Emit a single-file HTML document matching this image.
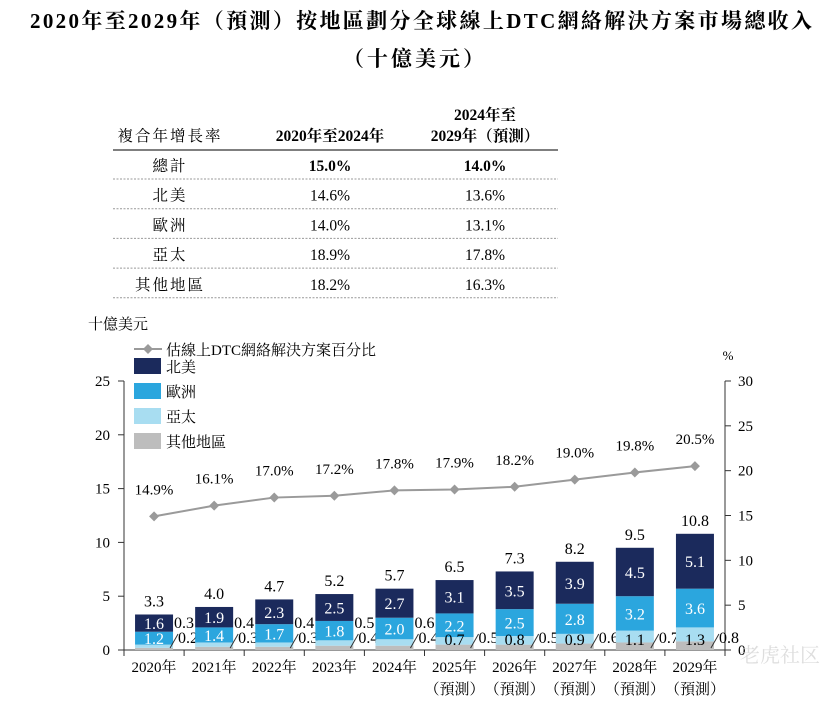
<!DOCTYPE html>
<html><head><meta charset="utf-8"><style>
body{margin:0;background:#fff;width:830px;height:702px;overflow:hidden;font-family:"Liberation Serif","Noto Serif CJK TC","Noto Serif CJK SC",serif;color:#222}
svg text{font-family:"Liberation Serif","Noto Serif CJK SC",serif}
</style></head><body>
<svg width="830" height="702">
<text x="30" y="28" font-size="21" font-weight="bold" textLength="782" lengthAdjust="spacing">2020年至2029年（預測）按地區劃分全球線上DTC網絡解決方案市場總收入</text>
<text x="415" y="66" text-anchor="middle" font-size="21" font-weight="bold" letter-spacing="3">（十億美元）</text>
<g id="table" font-size="15.5" text-anchor="middle"></g>
<g id="chart"></g>
<text x="740" y="662" font-size="20" fill="#ddd" font-family="sans-serif">老虎社区</text>
</svg>
<script>
const years=["2020年","2021年","2022年","2023年","2024年","2025年","2026年","2027年","2028年","2029年"];
const forecast=[0,0,0,0,0,1,1,1,1,1];
const northAmerica=[1.6,1.9,2.3,2.5,2.7,3.1,3.5,3.9,4.5,5.1];
const europe=[1.2,1.4,1.7,1.8,2.0,2.2,2.5,2.8,3.2,3.6];
const apac=[0.3,0.4,0.4,0.5,0.6,0.7,0.8,0.9,1.1,1.3];
const other=[0.2,0.3,0.3,0.4,0.4,0.5,0.5,0.6,0.7,0.8];
const totals=[3.3,4.0,4.7,5.2,5.7,6.5,7.3,8.2,9.5,10.8];
const share=[14.9,16.1,17.0,17.2,17.8,17.9,18.2,19.0,19.8,20.5];
const leftTicks=[0,5,10,15,20,25];
const rightTicks=[0,5,10,15,20,25,30];
const tableRows=[["總計","15.0%","14.0%"],["北美","14.6%","13.6%"],["歐洲","14.0%","13.1%"],["亞太","18.9%","17.8%"],["其他地區","18.2%","16.3%"]];

const NS="http://www.w3.org/2000/svg";
function mk(p,tag,at,txt){const e=document.createElementNS(NS,tag);for(const k in at)e.setAttribute(k,at[k]);if(txt!=null)e.textContent=txt;p.appendChild(e);return e;}
// table
const tb=document.getElementById('table');
const cx=[170,330,485];
mk(tb,'text',{x:cx[0],y:141,'letter-spacing':2},"複合年增長率");
mk(tb,'text',{x:cx[1],y:141,'font-weight':'bold'},"2020年至2024年");
mk(tb,'text',{x:cx[2],y:120,'font-weight':'bold'},"2024年至");
mk(tb,'text',{x:cx[2],y:141,'font-weight':'bold'},"2029年（預測）");
mk(tb,'line',{x1:113,x2:558,y1:150,y2:150,stroke:'#333','stroke-width':1.3});
tableRows.forEach((r,i)=>{
  const y=170+i*29.7;
  r.forEach((c,j)=>{const t=mk(tb,'text',{x:cx[j],y:y+1,'font-weight':i==0&&j>0?'bold':'normal','letter-spacing':j==0?2:0},c);
    
    });
  mk(tb,'line',{x1:113,x2:558,y1:y+9,y2:y+9,stroke:'#999','stroke-dasharray':'2,1.5','stroke-width':1});
});
// chart
const g=document.getElementById('chart');
const x0=124,x1=725,yb=650;
const yL=v=>yb-v*10.76, yR=v=>yb-v*8.967;
const step=(x1-x0)/years.length, bw=38;
const xc=i=>x0+step*(i+0.5);
mk(g,'text',{x:88,y:329,'font-size':15},"十億美元");
mk(g,'text',{x:728,y:360,'font-size':13,'text-anchor':'middle'},"%");
mk(g,'line',{x1:x0,x2:x0,y1:yL(25),y2:yb,stroke:'#333'});
mk(g,'line',{x1:x1,x2:x1,y1:yR(30),y2:yb,stroke:'#333'});
mk(g,'line',{x1:x0-6,x2:x1+6,y1:yb,y2:yb,stroke:'#333'});
leftTicks.forEach(t=>{mk(g,'line',{x1:x0-6,x2:x0,y1:yL(t),y2:yL(t),stroke:'#333'});
  const e=mk(g,'text',{x:x0-14,y:yL(t)+5,'font-size':15,'text-anchor':'end'},t);
  
  });
rightTicks.forEach(t=>{mk(g,'line',{x1:x1,x2:x1+6,y1:yR(t),y2:yR(t),stroke:'#333'});
  const e=mk(g,'text',{x:x1+13,y:yR(t)+5,'font-size':15},t);
  
  });
for(let i=0;i<=years.length;i++) mk(g,'line',{x1:x0+step*i,x2:x0+step*i,y1:yb,y2:yb+6,stroke:'#333'});
const cols=['#bdbdbd','#a8ddf1','#2ba6de','#1b2a5c'];
years.forEach((yr,i)=>{
  const segs=[other[i],apac[i],europe[i],northAmerica[i]];
  let acc=0;const bx=xc(i)-bw/2;
  segs.forEach((v,k)=>{
    const r=mk(g,'rect',{x:bx,y:yL(acc+v),width:bw,height:yL(acc)-yL(acc+v),fill:cols[k]});
    
    
    const mid=(yL(acc)+yL(acc+v))/2;
    if(k>=2) mk(g,'text',{x:xc(i),y:mid+6,'font-size':16,fill:'#fff','text-anchor':'middle'},v.toFixed(1));
    acc+=v;
  });
  if(forecast[i]) mk(g,'text',{x:xc(i),y:yb-5,'font-size':16,'text-anchor':'middle'},apac[i].toFixed(1));
  else mk(g,'text',{x:bx+bw+1,y:yb-22,'font-size':16},apac[i].toFixed(1));
  mk(g,'text',{x:bx+bw+5,y:yb-7,'font-size':16},other[i].toFixed(1));
  mk(g,'line',{x1:bx+bw-3,y1:yb-2,x2:bx+bw+5,y2:yb-16,stroke:'#333','stroke-width':1});
  mk(g,'text',{x:xc(i),y:yL(totals[i])-8,'font-size':16,'text-anchor':'middle'},totals[i].toFixed(1));
  mk(g,'text',{x:xc(i),y:672,'font-size':15,'text-anchor':'middle'},yr);
  if(forecast[i]) mk(g,'text',{x:xc(i),y:694,'font-size':15,'text-anchor':'middle'},"（預測）");
});
const pts=share.map((v,i)=>xc(i)+','+yR(v)).join(' ');
const pl=mk(g,'polyline',{points:pts,fill:'none',stroke:'#9a9a9a','stroke-width':2});


share.forEach((v,i)=>{
  const x=xc(i),y=yR(v);
  mk(g,'path',{d:`M${x-5},${y}L${x},${y-5}L${x+5},${y}L${x},${y+5}Z`,fill:'#9a9a9a'});
  mk(g,'text',{x:x,y:y-22,'font-size':15,'text-anchor':'middle'},v.toFixed(1)+'%');
});
// legend
mk(g,'line',{x1:134,x2:162,y1:349,y2:349,stroke:'#9a9a9a','stroke-width':2});
mk(g,'path',{d:'M143,349L148,344L153,349L148,354Z',fill:'#9a9a9a'});
mk(g,'text',{x:166,y:355,'font-size':15},"估線上DTC網絡解決方案百分比");
const legNames=["北美","歐洲","亞太","其他地區"];
const legCols=['#1b2a5c','#2ba6de','#a8ddf1','#bdbdbd'];
legNames.forEach((n,k)=>{
  const y=358+k*25;
  const r=mk(g,'rect',{x:134,y:y,width:27,height:16,fill:legCols[k]});
  
  
  mk(g,'text',{x:166,y:y+14,'font-size':15},n);
});
</script>
</body></html>
